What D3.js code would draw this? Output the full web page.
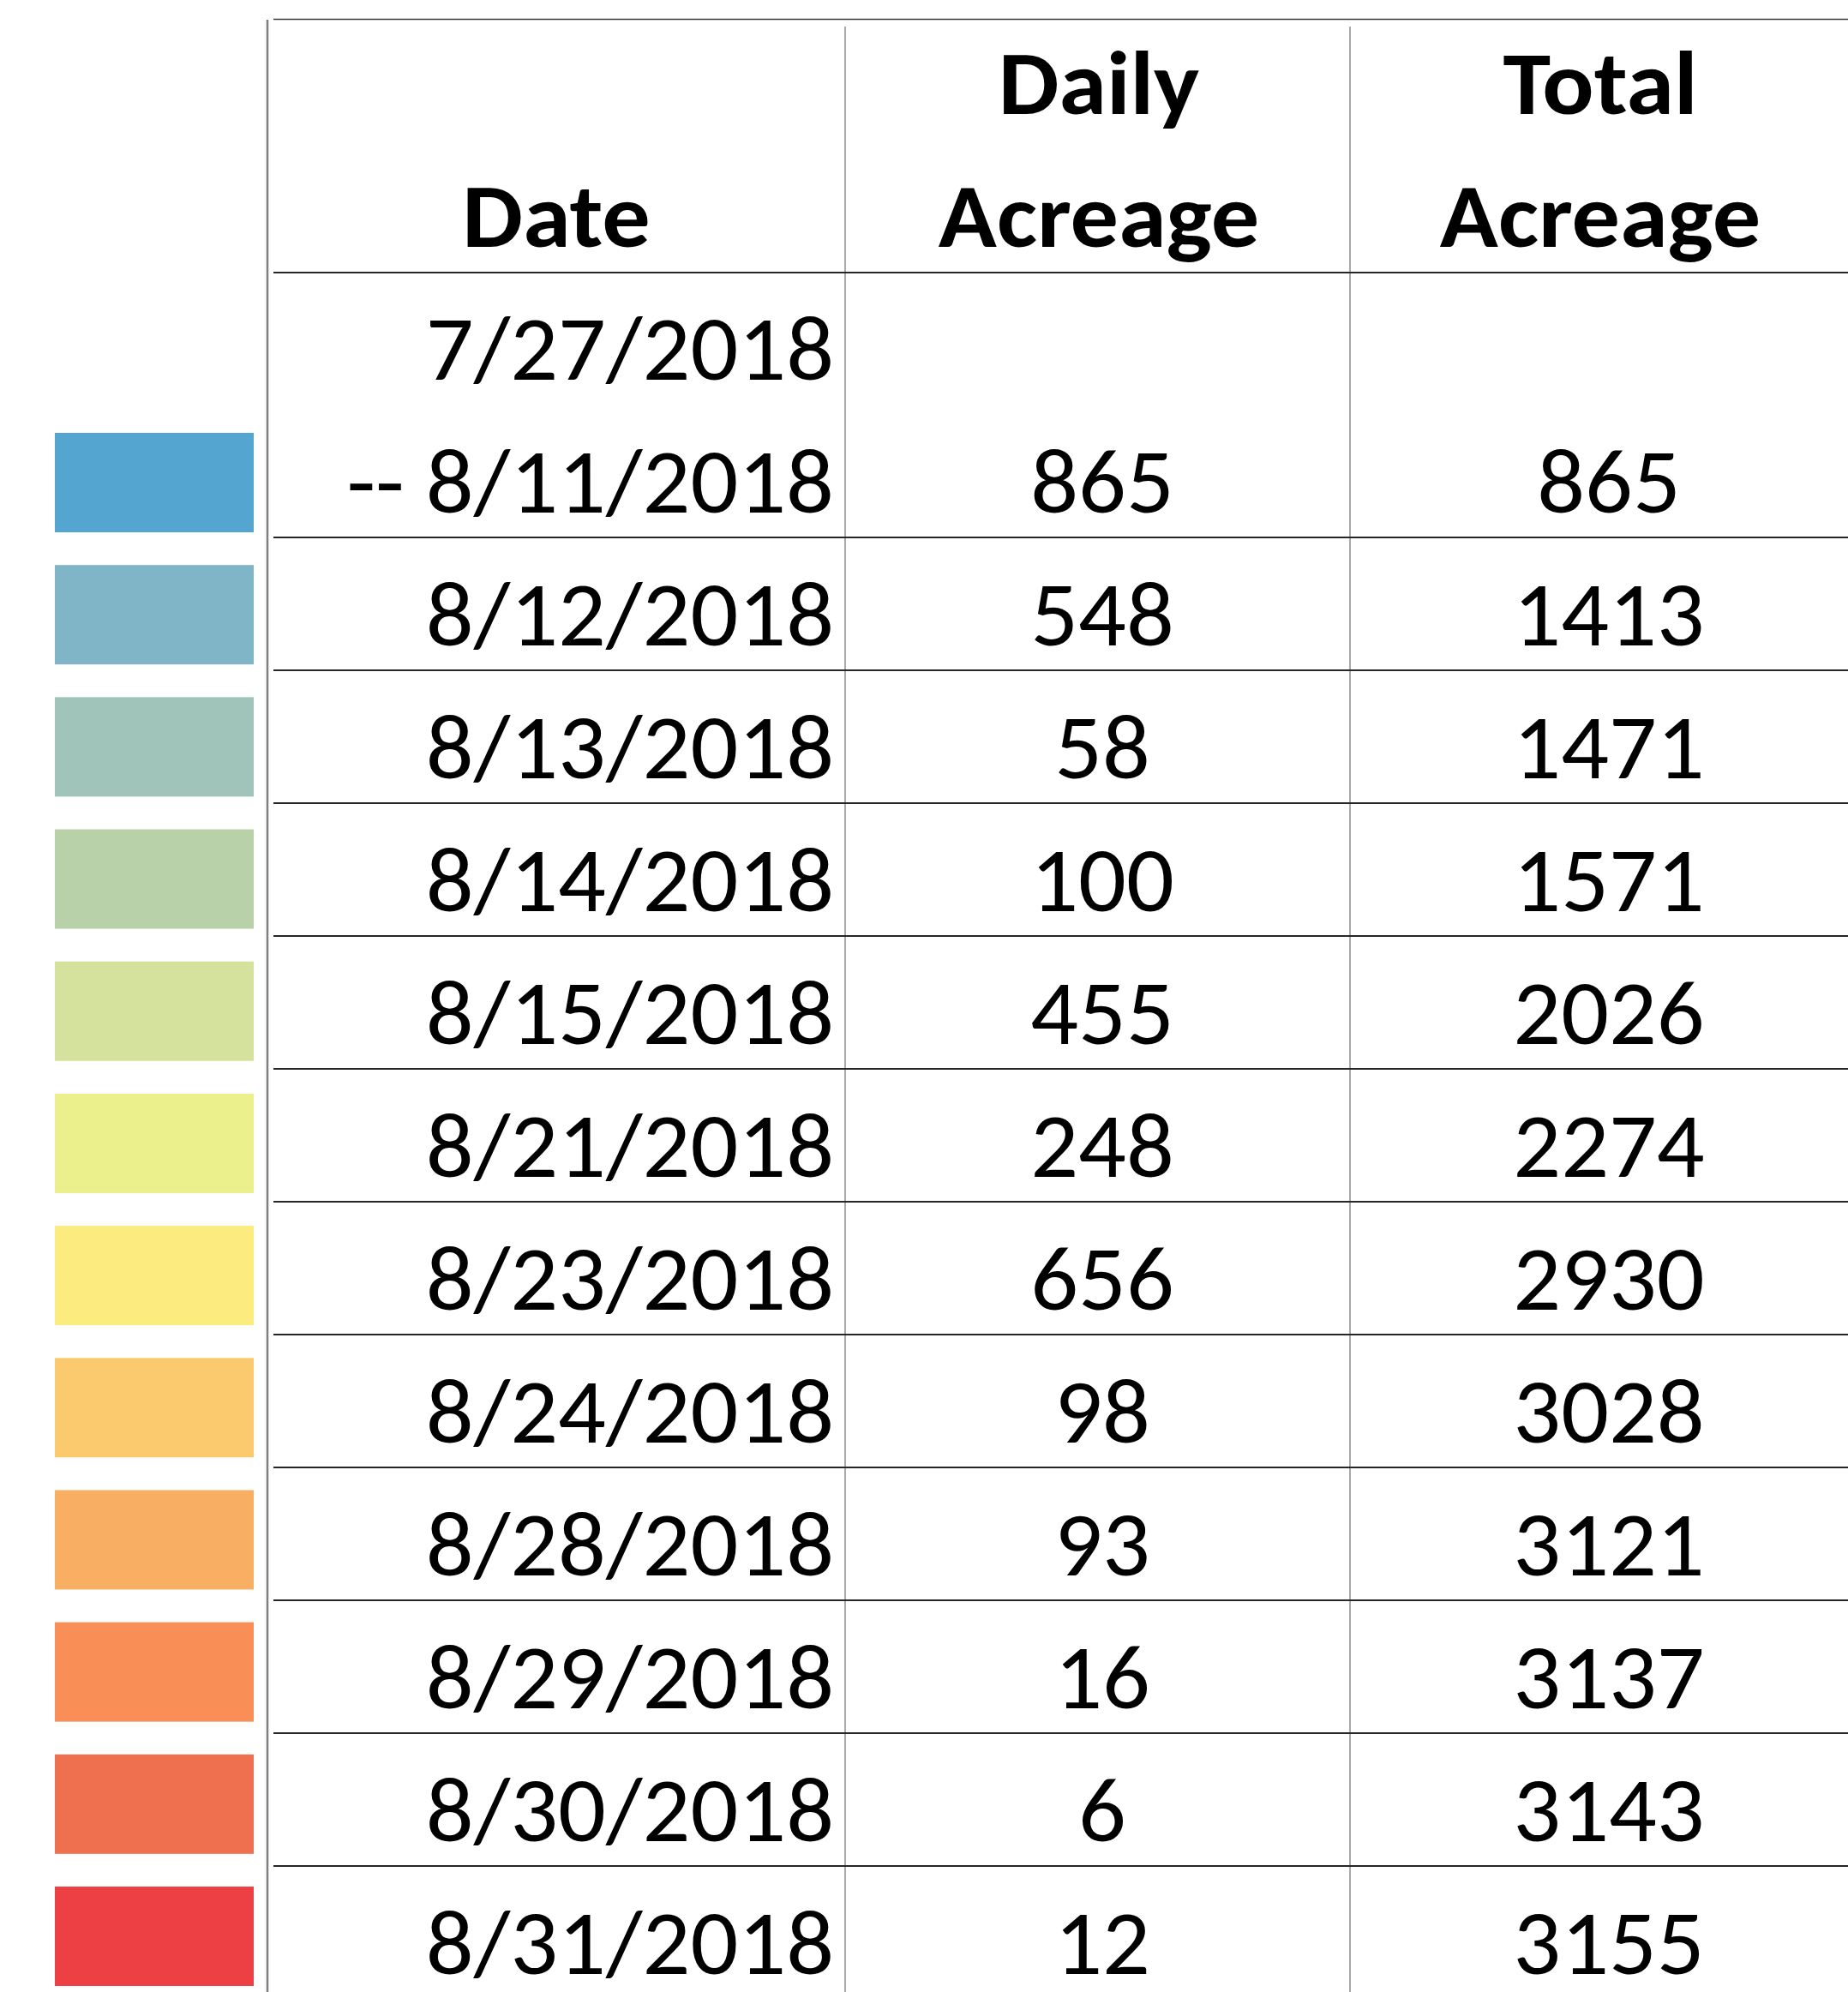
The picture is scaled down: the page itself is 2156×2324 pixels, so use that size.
<!DOCTYPE html>
<html><head><meta charset="utf-8">
<script src="https://cdn.jsdelivr.net/npm/d3@7"></script>
<style>html,body{margin:0;padding:0;background:#fff;overflow:hidden}</style>
</head><body>
<script>
// ---- data ----
const headerLines = [["", "Date"], ["Daily", "Acreage"], ["Total", "Acreage"]];
const dateLabels = [["7/27/2018", "-- 8/11/2018"], ["8/12/2018"], ["8/13/2018"], ["8/14/2018"], ["8/15/2018"],
  ["8/21/2018"], ["8/23/2018"], ["8/24/2018"], ["8/28/2018"], ["8/29/2018"], ["8/30/2018"], ["8/31/2018"]];
const dailyAcreage = [865, 548, 58, 100, 455, 248, 656, 98, 93, 16, 6, 12];
const totalAcreage = [865, 1413, 1471, 1571, 2026, 2274, 2930, 3028, 3121, 3137, 3143, 3155];
const swatchColors = ["#54a6d0", "#80b4c7", "#a0c4b9", "#b8d1a9", "#d5e29d", "#ecf08c",
  "#fceb7e", "#fbca6f", "#f8ae63", "#f98f57", "#ef704e", "#ec4044"];

// ---- layout ----
const W = 2156, H = 2324;
const FONT = "Carlito, Calibri, Lato, 'Open Sans', sans-serif";
const FS = 106, SX_REG = 1.04, SX_BOLD = 1.06;

const svg = d3.select("body").append("svg").attr("width", W).attr("height", H)
  .style("display", "block");

// text line baselines
const lineY = d3.scaleLinear().domain([0, 1]).range([133, 288]);
// swatches
const swY = d3.scaleLinear().domain([0, 11]).range([505, 2201]);
// columns: left edges
const colX = d3.scaleOrdinal().domain([0, 1, 2, 3]).range([319, 986, 1575, 2168]);
const tableLeft = 312;

const rowLastLine = i => (i === 0 ? 3 : i + 3);

// swatches
svg.append("g").selectAll("rect").data(swatchColors).join("rect")
  .attr("x", 64).attr("width", 232)
  .attr("y", (d, i) => swY(i)).attr("height", 116)
  .attr("fill", d => d);

// grid lines
const g = svg.append("g");
g.append("line").attr("x1", colX(0)).attr("x2", W).attr("y1", 22.5).attr("y2", 22.5)
  .attr("stroke", "#3a3a3a").attr("stroke-width", 1.6);
g.append("line").attr("x1", tableLeft).attr("x2", tableLeft).attr("y1", 23).attr("y2", H)
  .attr("stroke", "#7f7f7f").attr("stroke-width", 2.5);
[1, 2].forEach(c => {
  g.append("line").attr("x1", colX(c)).attr("x2", colX(c)).attr("y1", 31).attr("y2", H)
    .attr("stroke", "#7a7a7a").attr("stroke-width", 1.3);
});
const hLines = [lineY(1) + 30].concat(d3.range(0, 11).map(i => lineY(rowLastLine(i)) + 29));
g.selectAll("line.h").data(hLines).join("line").attr("class", "h")
  .attr("x1", colX(0)).attr("x2", W).attr("y1", d => d).attr("y2", d => d)
  .attr("stroke", "#262626").attr("stroke-width", 1.8);

function addText(parent, str, x, y, anchor, bold) {
  parent.append("text")
    .attr("transform", `translate(${x},${y}) scale(${bold ? SX_BOLD : SX_REG},1)`)
    .attr("text-anchor", anchor)
    .attr("font-family", FONT)
    .attr("font-size", FS)
    .attr("font-weight", bold ? 700 : 400)
    .attr("fill", "#000")
    .text(str);
}

const tg = svg.append("g");
// headers
const headerCenters = [649, 1282, 1867];
headerLines.forEach((lines, c) => {
  lines.forEach((s, k) => { if (s) addText(tg, s, headerCenters[c], lineY(k), "middle", true); });
});
// body
const dateRight = 973;
const col2Center = 1286, col3Center = 1877;
dateLabels.forEach((lines, i) => {
  const last = rowLastLine(i);
  lines.forEach((s, k) => addText(tg, s, dateRight, lineY(last - (lines.length - 1 - k)), "end", false));
  addText(tg, String(dailyAcreage[i]), col2Center, lineY(last), "middle", false);
  addText(tg, String(totalAcreage[i]), col3Center, lineY(last), "middle", false);
});
</script>
</body></html>
